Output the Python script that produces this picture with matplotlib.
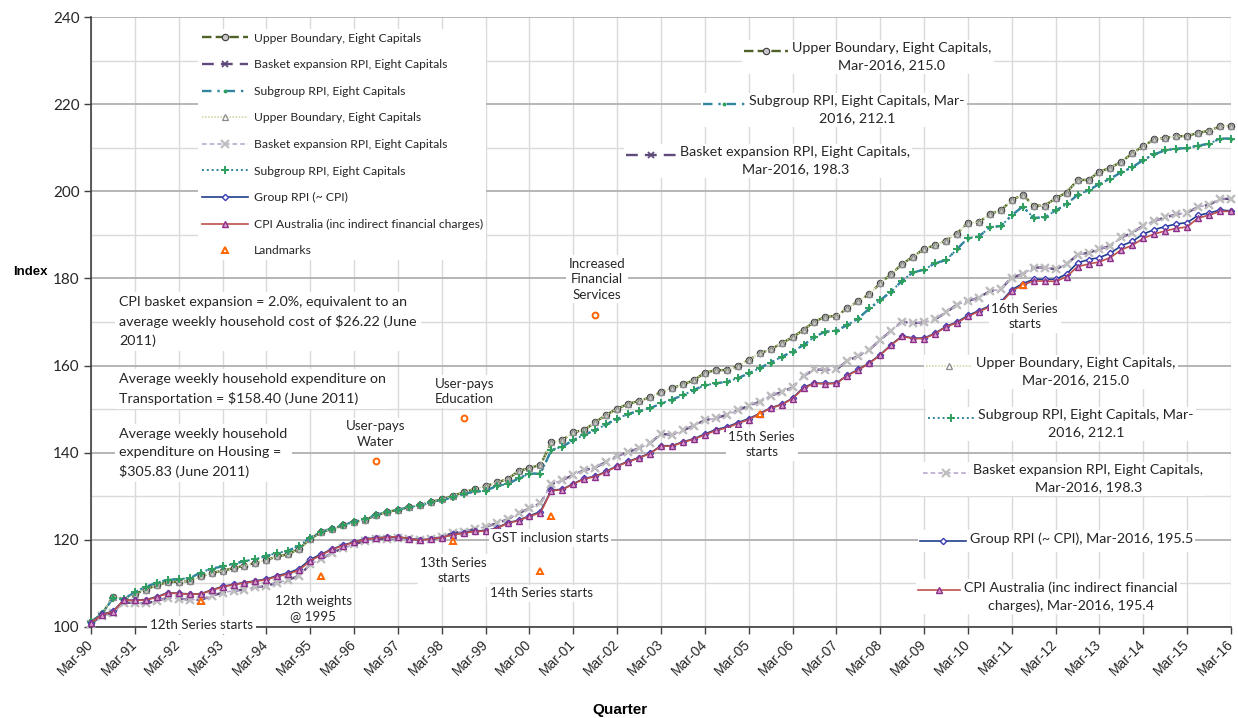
import numpy as np
import matplotlib
matplotlib.use("Agg")
import matplotlib.pyplot as plt
from matplotlib.lines import Line2D
from matplotlib.ticker import MultipleLocator
from matplotlib.offsetbox import AnnotationBbox, DrawingArea, TextArea, HPacker

CAL = ["Lato", "DejaVu Sans"]
ARIAL = ["Liberation Sans", "DejaVu Sans"]
INK = "#262626"

# ---------------- data ----------------
months = ["Mar", "Jun", "Sep", "Dec"]
quarters = [f"{months[k % 4]}-{(1990 + k // 4) % 100:02d}" for k in range(105)]

upper_boundary = [
    101.2, 102.9, 107.0, 106.3,
    107.6, 108.6, 109.6, 110.3,
    110.4, 110.5, 111.6, 112.4,
    112.9, 113.5, 114.1, 114.7,
    115.4, 116.2, 116.7, 118.0,
    120.2, 121.8, 122.5, 123.3,
    124.1, 124.6, 125.6, 126.4,
    126.9, 127.5, 127.9, 128.7,
    129.3, 130.1, 130.9, 131.7,
    132.3, 133.2, 133.9, 135.8,
    136.5, 137.2, 142.4, 142.9,
    144.7, 145.2, 147.0, 148.7,
    150.1, 151.2, 151.9, 152.7,
    153.9, 154.8, 155.7, 156.6,
    158.4, 158.9, 159.0, 159.9,
    161.3, 162.8, 163.7, 165.1,
    166.5, 168.2, 170.1, 171.2,
    171.4, 173.1, 174.8, 176.4,
    178.9, 181.0, 183.3, 185.0,
    186.8, 187.6, 188.7, 190.3,
    192.8, 192.9, 194.8, 195.6,
    198.0, 199.2, 196.7, 196.7,
    198.4, 199.7, 202.6, 202.6,
    204.5, 205.4, 206.8, 208.7,
    210.4, 211.9, 212.3, 212.6,
    212.7, 213.4, 213.9, 214.9,
    215.0,
]

subgroup_rpi = [
    101.2, 103.0, 106.6, 106.4,
    108.0, 109.2, 110.2, 110.8,
    111.0, 111.2, 112.5, 113.4,
    113.9, 114.5, 115.1, 115.6,
    116.3, 117.0, 117.5, 118.7,
    120.5, 121.9, 122.6, 123.4,
    124.2, 124.8, 125.7, 126.5,
    126.9, 127.5, 127.9, 128.6,
    129.1, 129.8, 130.5, 131.1,
    131.2, 132.4, 132.8, 134.1,
    135.2, 135.2, 140.6, 141.4,
    142.9, 144.1, 145.2, 146.5,
    147.8, 148.9, 149.6, 150.2,
    151.3, 152.2, 153.2, 154.4,
    155.5, 155.9, 156.3, 157.1,
    158.2, 159.4, 160.7, 162.0,
    163.2, 164.7, 166.6, 167.8,
    168.0, 169.3, 170.8, 173.1,
    175.0, 177.0, 179.5, 181.4,
    182.0, 183.5, 184.2, 186.7,
    189.3, 189.6, 191.8, 192.0,
    194.5, 196.5, 193.9, 194.0,
    195.6, 197.0, 199.2, 200.2,
    201.7, 202.9, 204.4, 205.5,
    207.2, 208.5, 209.4, 209.8,
    209.9, 210.5, 210.9, 212.1,
    212.1,
]

basket_rpi = [
    100.8, 102.6, 103.2, 105.6,
    105.5, 105.4, 106.0, 106.7,
    106.5, 106.3, 106.2, 107.1,
    107.9, 108.3, 108.6, 109.1,
    109.4, 110.2, 110.8, 111.8,
    114.4, 115.6, 117.0, 118.1,
    119.0, 119.7, 120.1, 120.3,
    120.4, 120.1, 120.0, 120.2,
    120.6, 121.6, 121.9, 122.5,
    123.0, 123.8, 124.7, 126.1,
    127.2, 128.4, 132.8, 133.7,
    134.9, 136.0, 136.6, 137.9,
    139.2, 140.2, 141.0, 142.2,
    144.3, 144.1, 145.1, 146.2,
    147.5, 147.9, 148.7, 149.7,
    150.8, 151.7, 153.1, 153.9,
    155.0, 157.6, 159.1, 159.0,
    159.1, 161.1, 162.2, 163.6,
    165.9, 168.0, 170.1, 169.7,
    169.9, 170.6, 172.2, 174.0,
    174.8, 175.6, 177.1, 177.5,
    180.2, 181.0, 182.5, 182.5,
    182.1, 183.3, 185.4, 185.9,
    186.7, 187.5, 189.4, 190.5,
    192.1, 193.2, 194.0, 194.7,
    195.1, 196.4, 196.9, 198.2,
    198.3,
]

group_rpi = [
    101.0, 102.9, 103.6, 106.2,
    106.1, 106.3, 106.9, 107.9,
    107.7, 107.6, 107.6, 108.5,
    109.3, 109.8, 110.2, 110.6,
    111.0, 111.8, 112.4, 113.4,
    115.5, 116.7, 117.9, 118.8,
    119.5, 120.2, 120.5, 120.6,
    120.7, 120.3, 120.0, 120.2,
    120.5, 121.3, 121.6, 122.1,
    122.1, 122.7, 123.9, 124.5,
    125.5, 126.5, 131.4, 131.6,
    132.9, 134.1, 134.6, 135.7,
    137.0, 138.0, 138.9, 139.9,
    141.6, 141.6, 142.5, 143.2,
    144.3, 145.3, 145.9, 146.9,
    147.8, 149.0, 150.3, 151.1,
    152.5, 155.0, 156.0, 155.9,
    156.0, 157.8, 159.1, 160.6,
    162.5, 164.8, 166.8, 166.3,
    166.3, 167.4, 169.0, 170.0,
    171.5, 172.6, 173.7, 174.6,
    177.4, 178.8, 179.8, 179.8,
    179.8, 181.0, 183.6, 184.3,
    184.8, 185.8, 187.5, 188.5,
    190.2, 191.2, 191.9, 192.5,
    192.8, 194.5, 195.0, 195.7,
    195.5,
]

cpi_australia = [
    101.0, 102.8, 103.5, 106.2,
    106.1, 106.2, 106.8, 107.8,
    107.7, 107.5, 107.6, 108.4,
    109.2, 109.7, 110.1, 110.5,
    110.9, 111.6, 112.2, 113.1,
    115.2, 116.5, 117.8, 118.7,
    119.4, 120.1, 120.4, 120.6,
    120.7, 120.3, 119.9, 120.2,
    120.5, 121.2, 121.5, 122.0,
    122.0, 122.6, 123.8, 124.4,
    125.4, 126.2, 131.3, 131.5,
    132.8, 134.0, 134.5, 135.6,
    136.9, 137.9, 138.8, 139.8,
    141.5, 141.5, 142.4, 143.1,
    144.1, 145.1, 145.7, 146.7,
    147.6, 148.9, 150.2, 151.0,
    152.4, 154.8, 155.9, 155.8,
    155.9, 157.7, 159.0, 160.5,
    162.4, 164.7, 166.7, 166.2,
    166.2, 167.3, 168.9, 169.8,
    171.3, 172.4, 173.5, 174.3,
    177.1, 178.5, 179.4, 179.4,
    179.3, 180.4, 182.7, 183.3,
    183.8, 184.8, 186.6, 187.6,
    189.2, 190.2, 190.9, 191.5,
    191.8, 193.9, 194.5, 195.4,
    195.4,
]

landmark_quarters = ["Sep-92", "Jun-95", "Sep-96", "Sep-98", "Sep-01",
                     "Jun-98", "Sep-00", "Jun-00", "Jun-05", "Jun-11"]
landmark_values = [106.0, 111.6, 138.1, 147.9, 171.6,
                   119.8, 125.5, 112.8, 149.0, 178.6]
landmark_labels = ["12th Series starts", "12th weights\n@ 1995", "User-pays\nWater",
                   "User-pays\nEducation", "Increased\nFinancial\nServices",
                   "13th Series\nstarts", "GST inclusion starts", "14th Series starts",
                   "15th Series\nstarts", "16th Series\nstarts"]

# ---------------- styles ----------------
S_UB = dict(color="#4F6228", ls=(0, (4, 1.8)), lw=1.7, marker="o", ms=4.6,
            mfc="#C8C8C8", mec="#3A3A3A", mew=0.8)
S_BE = dict(color="#604A7B", ls=(0, (5, 3)), lw=1.7, marker="x", ms=5,
            mec="#604A7B", mew=1.3)
S_SG = dict(color="#31859C", ls=(0, (4, 2.5, 1, 2.5)), lw=1.7, marker=".", ms=3.5,
            mfc="#2E9F5F", mec="#2E9F5F")
S_UB2 = dict(color="#C3D69B", ls=(0, (1, 1)), lw=1.1, marker="^", ms=4,
             mfc="none", mec="#8C8C8C", mew=0.9)
S_BE2 = dict(color="#B3A2C7", ls=(0, (3, 2)), lw=1.1, marker="x", ms=5.5,
             mec="#BFBFBF", mew=1.6)
S_SG2 = dict(color="#31859C", ls=(0, (1, 1.5)), lw=1.4, marker="+", ms=5.5,
             mec="#2E9F5F", mew=1.4)
S_GR = dict(color="#1F3E8C", ls="-", lw=1.2, marker="D", ms=3.2,
            mfc="white", mec="#3C3CB4", mew=1.0)
S_CPI = dict(color="#C0504D", ls="-", lw=1.2, marker="^", ms=4.4,
             mfc="#D9A0C8", mec="#8B2F8B", mew=1.0)
S_LM = dict(ls="none", marker="^", ms=5, mfc="white", mec="#FF6600", mew=1.4)
landmark_markers = ["^", "^", "o", "o", "o", "^", "^", "^", "^", "^"]

# ---------------- figure ----------------
W, H = 1238, 718
fig = plt.figure(figsize=(W / 100, H / 100), dpi=100)
ax = fig.add_axes([91 / W, 1 - 627 / H, (1231 - 91) / W, (627 - 17) / H])

x = np.arange(len(quarters))

series = [
    (upper_boundary, S_UB, "Upper Boundary, Eight Capitals"),
    (basket_rpi, S_BE, "Basket expansion RPI, Eight Capitals"),
    (subgroup_rpi, S_SG, "Subgroup RPI, Eight Capitals"),
    (upper_boundary, S_UB2, "Upper Boundary, Eight Capitals"),
    (basket_rpi, S_BE2, "Basket expansion RPI, Eight Capitals"),
    (subgroup_rpi, S_SG2, "Subgroup RPI, Eight Capitals"),
    (group_rpi, S_GR, "Group RPI (~ CPI)"),
    (cpi_australia, S_CPI, "CPI Australia (inc indirect financial charges)"),
]
handles = []
for vals, st, lab in series:
    (ln,) = ax.plot(x, vals, label=lab, clip_on=False, zorder=3, **st)
    handles.append(ln)

lm_x = [quarters.index(q) for q in landmark_quarters]
for xi, yi, mk in zip(lm_x, landmark_values, landmark_markers):
    st = dict(S_LM)
    st["marker"] = mk
    if mk == "o":
        st["ms"] = 4.2
    ax.plot([xi], [yi], zorder=4, **st)
lm_handle = Line2D([], [], label="Landmarks", **S_LM)
handles.append(lm_handle)

# landmark captions (pixel offsets from each marker)
lm_offsets = [(1, -24), (-8, -32), (0, 27), (1, 27), (2, 36),
              (1, -30), (-1, -22), (1, -22), (2, -31), (2, -32)]
for xi, yi, lab, off in zip(lm_x, landmark_values, landmark_labels, lm_offsets):
    ax.annotate(lab, (xi, yi), xytext=off, textcoords="offset pixels",
                ha="center", va="center", multialignment="center",
                fontsize=9.6, family=CAL, color=INK, linespacing=1.35,
                bbox=dict(boxstyle="square,pad=0.2", fc="white", ec="none"),
                zorder=10, annotation_clip=False)

# ---------------- axes ----------------
ax.set_xlim(0, len(quarters) - 1)
ax.set_ylim(100, 240)
ax.set_yticks(range(100, 241, 20))
ax.yaxis.set_minor_locator(MultipleLocator(10))
ax.set_xticks(x[::4])
ax.set_xticklabels(quarters[::4], rotation=45, ha="right", va="center",
                   rotation_mode="anchor", fontsize=10, family=ARIAL, color=INK)
for t in ax.get_yticklabels():
    t.set_fontfamily(CAL)
    t.set_fontsize(11)
    t.set_color(INK)
ax.tick_params(axis="both", which="major", length=5, width=1, color="#404040",
               direction="out")
ax.tick_params(axis="x", pad=6)
ax.tick_params(axis="y", pad=3)
ax.tick_params(which="minor", length=0)
ax.set_axisbelow(True)
ax.grid(which="major", axis="y", color="#B5B5B5", lw=1.4)
ax.grid(which="minor", axis="y", color="#DADADA", lw=1.0)
ax.grid(which="major", axis="x", color="#DADADA", lw=1.0)
for s in ("top", "right"):
    ax.spines[s].set_visible(False)
for s in ("left", "bottom"):
    ax.spines[s].set_color("#404040")
    ax.spines[s].set_linewidth(1.2)

fig.text(30 / W, 1 - 272 / H, "Index", fontsize=9.5, family=ARIAL,
         fontweight="bold", ha="center", va="center", color="black")
fig.text(620 / W, 1 - 710 / H, "Quarter", fontsize=11, family=ARIAL,
         fontweight="bold", ha="center", va="center", color="black")

# ---------------- legend ----------------
leg = ax.legend(handles=handles, loc="upper left",
                bbox_to_anchor=(198 / W, 1 - 29 / H), bbox_transform=fig.transFigure,
                prop=dict(family=CAL, size=8.7), handlelength=3.8, handletextpad=0.5,
                labelspacing=1.29, numpoints=1, frameon=True, fancybox=False,
                borderpad=0.3, borderaxespad=0)
leg.get_frame().set_facecolor("white")
leg.get_frame().set_edgecolor("none")
leg.get_frame().set_alpha(1)
for t in leg.get_texts():
    t.set_color(INK)
leg.set_zorder(9)

# ---------------- explanatory notes ----------------
notes = [
    (119, 296, "CPI basket expansion = 2.0%, equivalent to an\n"
               "average weekly household cost of $26.22 (June\n2011)"),
    (119, 373, "Average weekly household expenditure on\n"
               "Transportation = $158.40 (June 2011)"),
    (119, 428, "Average weekly household\nexpenditure on Housing =\n"
               "$305.83 (June 2011)"),
]
for px, py, txt in notes:
    fig.text(px / W, 1 - py / H, txt, ha="left", va="top", fontsize=10.3,
             family=CAL, color=INK, linespacing=1.62,
             bbox=dict(boxstyle="square,pad=0.3", fc="white", ec="none"), zorder=10)

# ---------------- end-point callouts ----------------
def callout(style, text, left_px, top_px, key_px):
    key_w = key_px * 0.72
    line_h = 10.3 * 1.25
    da = DrawingArea(key_w, line_h, 0, 0)
    da.add_artist(Line2D([0, key_w / 2, key_w], [line_h / 2] * 3,
                         markevery=[1], **style))
    ta = TextArea(text, textprops=dict(fontsize=10.3, family=CAL, color=INK,
                                       multialignment="center", linespacing=1.55))
    pack = HPacker(children=[da, ta], align="top", pad=0, sep=3)
    ab = AnnotationBbox(pack, (left_px, H - top_px), xycoords="figure pixels",
                        box_alignment=(0, 1), frameon=True, pad=0.15,
                        bboxprops=dict(facecolor="white", edgecolor="none"),
                        zorder=10, annotation_clip=False)
    ax.add_artist(ab)

last = len(quarters) - 1
end = quarters[last].replace("-", "-20")
callouts = [
    (S_UB, f"Upper Boundary, Eight Capitals,\n{end}, {upper_boundary[last]:.1f}", 744, 42, 44),
    (S_SG, f"Subgroup RPI, Eight Capitals, Mar-\n{end[4:]}, {subgroup_rpi[last]:.1f}", 703, 95, 42),
    (S_BE, f"Basket expansion RPI, Eight Capitals,\n{end}, {basket_rpi[last]:.1f}", 626, 146, 50),
    (S_UB2, f"Upper Boundary, Eight Capitals,\n{end}, {upper_boundary[last]:.1f}", 926, 357, 46),
    (S_SG2, f"Subgroup RPI, Eight Capitals, Mar-\n{end[4:]}, {subgroup_rpi[last]:.1f}", 928, 409, 46),
    (S_BE2, f"Basket expansion RPI, Eight Capitals,\n{end}, {basket_rpi[last]:.1f}", 923, 464, 46),
    (S_GR, f"Group RPI (~ CPI), {end}, {group_rpi[last]:.1f}", 920, 532, 46),
    (S_CPI, f"CPI Australia (inc indirect financial\ncharges), {end}, {cpi_australia[last]:.1f}", 918, 581, 42),
]
for st, txt, lx, ty, kw in callouts:
    callout(st, txt, lx, ty, kw)

fig.savefig("out.png", dpi=100, facecolor="white")
